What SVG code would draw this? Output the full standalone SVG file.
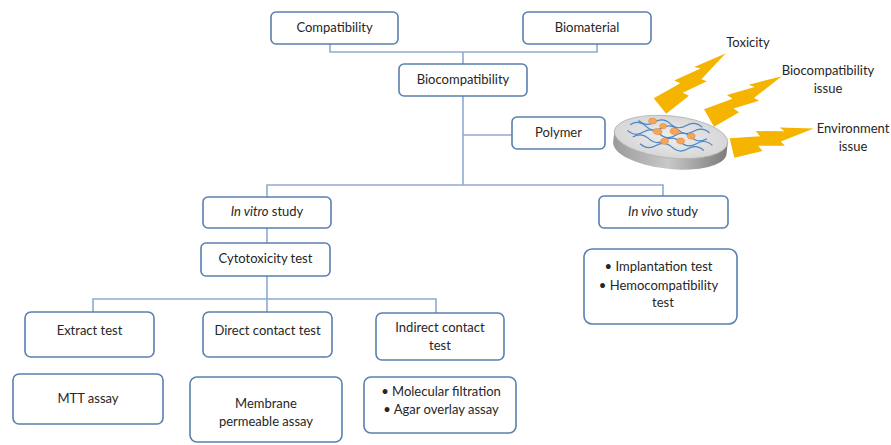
<svg xmlns="http://www.w3.org/2000/svg" width="891" height="445" viewBox="0 0 891 445">
  <style>
    .box { fill: #ffffff; stroke: #5a7fb0; stroke-width: 1.6; }
    .lbl { font-family: Lato, "Open Sans", "Liberation Sans", sans-serif; font-size: 13px; fill: #262626; text-anchor: middle; }
    .link { fill: none; stroke: #8eaad2; stroke-width: 1.6; }
    .bolt { fill: #f4b400; }
    .fiber { fill: none; stroke: #4a86c8; stroke-width: 1.2; }
    .cell { fill: #f2a65a; stroke: #e0883a; stroke-width: 0.5; }
  </style>
  <defs>
    <linearGradient id="discSide" x1="0" y1="0" x2="1" y2="0">
      <stop offset="0" stop-color="#9a9a9a"/>
      <stop offset="0.5" stop-color="#c8c8c8"/>
      <stop offset="1" stop-color="#7d7d7d"/>
    </linearGradient>
    <radialGradient id="discTop" cx="0.5" cy="0.5" r="0.6">
      <stop offset="0" stop-color="#eeeeee"/>
      <stop offset="1" stop-color="#d2d2d2"/>
    </radialGradient>
    <polygon id="boltShape" points="0,-10 30,-5 27,-11 55,-4 51,-9 84,0 49,5 52,10 26,4 29,10 0,10"/>
  </defs>

  <g id="connectors">
    <polyline class="link" points="330,44 330,52 597,52 597,44"/>
    <line class="link" x1="463" y1="52" x2="463" y2="64"/>
    <line class="link" x1="463" y1="96" x2="463" y2="185"/>
    <line class="link" x1="463" y1="135" x2="512" y2="135"/>
    <polyline class="link" points="267,197 267,185 663,185 663,196"/>
    <line class="link" x1="267" y1="228" x2="267" y2="243"/>
    <line class="link" x1="267" y1="276" x2="267" y2="312"/>
    <polyline class="link" points="93,312 93,299 436,299 436,313"/>
  </g>

  <g id="compatibility">
    <rect class="box" x="271" y="12" width="127" height="32" rx="5"/>
    <text class="lbl" x="334.5" y="32">Compatibility</text>
  </g>
  <g id="biomaterial">
    <rect class="box" x="523" y="12" width="128" height="32" rx="5"/>
    <text class="lbl" x="587" y="32">Biomaterial</text>
  </g>
  <g id="biocompatibility">
    <rect class="box" x="399" y="64" width="128" height="32" rx="5"/>
    <text class="lbl" x="463" y="84">Biocompatibility</text>
  </g>
  <g id="polymer">
    <rect class="box" x="512" y="117" width="93" height="32" rx="5"/>
    <text class="lbl" x="558.5" y="137">Polymer</text>
  </g>
  <g id="in-vitro">
    <rect class="box" x="203" y="197" width="128" height="31" rx="5"/>
    <text class="lbl" x="267" y="216"><tspan font-style="italic">In vitro</tspan> study</text>
  </g>
  <g id="in-vivo">
    <rect class="box" x="599" y="196" width="129" height="32" rx="5"/>
    <text class="lbl" x="663" y="216"><tspan font-style="italic">In vivo</tspan> study</text>
  </g>
  <g id="cytotoxicity">
    <rect class="box" x="201" y="243" width="129" height="33" rx="5"/>
    <text class="lbl" x="265.5" y="263">Cytotoxicity test</text>
  </g>
  <g id="extract-test">
    <rect class="box" x="25" y="312" width="129" height="45" rx="6"/>
    <text class="lbl" x="89.5" y="335">Extract test</text>
  </g>
  <g id="direct-contact">
    <rect class="box" x="203" y="312" width="129" height="45" rx="6"/>
    <text class="lbl" x="267.5" y="335">Direct contact test</text>
  </g>
  <g id="indirect-contact">
    <rect class="box" x="376" y="313" width="128" height="47" rx="6"/>
    <text class="lbl" x="440" y="332">Indirect contact</text>
    <text class="lbl" x="440" y="350">test</text>
  </g>
  <g id="mtt-assay">
    <rect class="box" x="13" y="374" width="150" height="50" rx="6"/>
    <text class="lbl" x="88" y="403">MTT assay</text>
  </g>
  <g id="membrane-assay">
    <rect class="box" x="190" y="377" width="152" height="65" rx="7"/>
    <text class="lbl" x="266" y="408">Membrane</text>
    <text class="lbl" x="266" y="426">permeable assay</text>
  </g>
  <g id="indirect-assays">
    <rect class="box" x="364" y="377" width="152" height="56" rx="7"/>
    <text class="lbl" x="441" y="396">•  Molecular filtration</text>
    <text class="lbl" x="441" y="414">•  Agar overlay assay</text>
  </g>
  <g id="in-vivo-tests">
    <rect class="box" x="584" y="249" width="153" height="75" rx="8"/>
    <text class="lbl" x="658.5" y="271">•  Implantation test</text>
    <text class="lbl" x="658.5" y="290">•  Hemocompatibility</text>
    <text class="lbl" x="663" y="307">test</text>
  </g>

  <g id="polymer-disc">
    <g transform="translate(671,137) rotate(6)">
      <path d="M -57,0 L -57,11 A 57 21 0 0 0 57 11 L 57 0 Z" fill="url(#discSide)"/>
      <ellipse cx="0" cy="0" rx="57" ry="21" fill="url(#discTop)" stroke="#b0b0b0" stroke-width="0.8"/>
      <path class="fiber" d="M -42,-8 q 8,-6 16,0 t 16,0 t 16,0 t 16,0 t 16,0"/>
      <path class="fiber" d="M -44,-2 q 8,6 16,0 t 16,0 t 16,0 t 16,0 t 16,0"/>
      <path class="fiber" d="M -38,4 q 8,-6 16,0 t 16,0 t 16,0 t 16,0 t 16,0"/>
      <path class="fiber" d="M -30,10 q 8,6 16,0 t 16,0 t 16,0 t 16,0"/>
      <path class="fiber" d="M -34,-13 q 8,6 16,0 t 16,0 t 16,0 t 16,0"/>
      <ellipse class="cell" cx="-20" cy="-14" rx="4" ry="3"/>
      <ellipse class="cell" cx="-14" cy="-4" rx="4.5" ry="3"/>
      <ellipse class="cell" cx="-6" cy="5" rx="4" ry="3"/>
      <ellipse class="cell" cx="3" cy="-6" rx="4.5" ry="3.2"/>
      <ellipse class="cell" cx="10" cy="3" rx="4" ry="3"/>
      <ellipse class="cell" cx="20" cy="-3" rx="4" ry="3"/>
      <ellipse class="cell" cx="-9" cy="-10" rx="3.5" ry="2.6"/>
    </g>
  </g>

  <g id="bolts">
    <use href="#boltShape" class="bolt" transform="translate(660,106) rotate(-38.7)"/>
    <use href="#boltShape" class="bolt" transform="translate(709,118) rotate(-29.9)"/>
    <use href="#boltShape" class="bolt" transform="translate(732,148) rotate(-13.4)"/>
  </g>

  <g id="issue-labels">
    <text class="lbl" x="748" y="47">Toxicity</text>
    <text class="lbl" x="828" y="75">Biocompatibility</text>
    <text class="lbl" x="828" y="93">issue</text>
    <text class="lbl" x="853" y="133">Environment</text>
    <text class="lbl" x="853" y="151">issue</text>
  </g>
</svg>
